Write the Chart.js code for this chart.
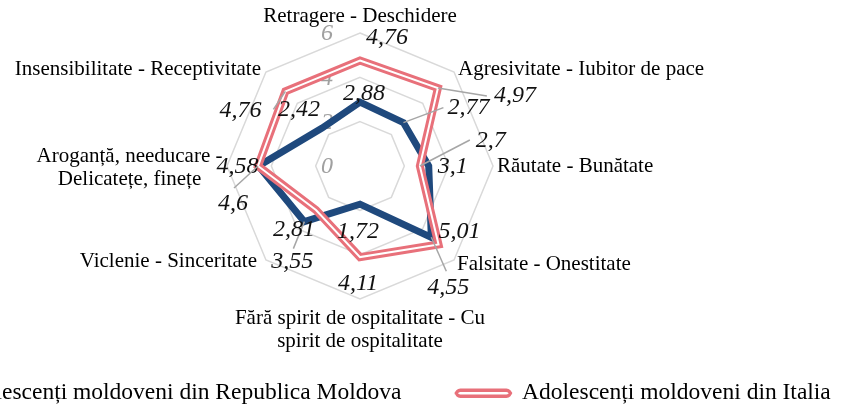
<!DOCTYPE html>
<html lang="ro">
<head>
<meta charset="utf-8">
<title>Radar</title>
<script src="https://cdn.jsdelivr.net/npm/chart.js@4.4.1/dist/chart.umd.min.js"></script>
<style>
  html, body { margin: 0; padding: 0; background: #fff; }
  #cadru { position: relative; width: 843px; height: 408px; overflow: hidden; }
  #lienzo { position: absolute; left: -190px; top: 0; width: 1100px; height: 415px; }
</style>
</head>
<body>
<div id="cadru"><div id="lienzo"><canvas id="grafico"></canvas></div></div>
<script>
// Datele graficului
const categorii = [
  'Retragere - Deschidere',
  'Agresivitate - Iubitor de pace',
  'Răutate - Bunătate',
  'Falsitate - Onestitate',
  ['Fără spirit de ospitalitate - Cu', 'spirit de ospitalitate'],
  'Viclenie - Sinceritate',
  ['Aroganță, needucare -', 'Delicatețe, finețe'],
  'Insensibilitate - Receptivitate'
];
const moldova = [2.88, 2.77, 3.1, 4.55, 1.72, 3.55, 4.58, 2.42];
const italia = [4.76, 4.97, 2.7, 5.01, 4.11, 2.81, 4.6, 4.76];
const valoriAxa = [0, 2, 4, 6];
const numeSerii = ['Adolescenți moldoveni din Republica Moldova', 'Adolescenți moldoveni din Italia'];

// Culori
const albastru = '#1f497d';
const rosu = '#e8707a';

// Asezarea etichetelor (decalaj fata de varf / punct)
const pozCategorii = [[0, -17, 'center'], [4, -2, 'left'], [4, 0, 'left'], [3, 4, 'left'],
  [0, 31, 'center'], [-9, 1, 'right'], [-4.5, 2, 'right'], [-5, -2, 'right']];
const decMoldova = [[4, -8], [65, -15], [24, 1], [17, 50], [-2, 28], [-12, 40], [-21, 1], [-23, -18]];
const decItalia = [[27, -23], [77, 8], [71, -25], [21, -13], [-2, 27], [-22, 20], [-25, 38], [-45, 19]];
const ghidMoldova = [null, [-25, 0], null, [-2, -16], null, [1, -13], null, null];
const ghidItalia = [null, [-28, 0], [-21, -1], null, null, null, [1, -16], [33, -1]];

const fontText = "21px 'Liberation Serif'";
const fontNumar = "italic 24px 'Liberation Serif'";

function formatNumar(v) {
  return String(v).replace('.', ',');
}

// Plugin pentru etichete
const etichete = {
  id: 'etichete',
  beforeDatasetsDraw(chart) {
    const r = chart.scales.r;
    const ctx = chart.ctx;
    ctx.save();
    ctx.font = fontNumar;
    ctx.fillStyle = '#a0a0a0';
    ctx.textAlign = 'center';
    ctx.textBaseline = 'middle';
    valoriAxa.forEach(v => {
      const d = r.getDistanceFromCenterForValue(v);
      ctx.fillText(String(v), r.xCenter - 33, r.yCenter - d + 1);
    });
    ctx.restore();
  },
  afterDatasetsDraw(chart) {
    const r = chart.scales.r;
    const ctx = chart.ctx;
    ctx.save();
    ctx.textBaseline = 'middle';

    // denumirile axelor
    ctx.font = fontText;
    ctx.fillStyle = '#000';
    const lh = 22.5;
    categorii.forEach((cat, i) => {
      const p = r.getPointPosition(i, r.drawingArea);
      const [dx, dy, al] = pozCategorii[i];
      const linii = Array.isArray(cat) ? cat : [cat];
      const x = p.x + dx;
      const yc = p.y + dy;
      const maxW = Math.max(...linii.map(t => ctx.measureText(t).width));
      linii.forEach((t, k) => {
        const y = yc - (linii.length - 1) * lh / 2 + k * lh;
        if (linii.length > 1 && al !== 'center') {
          ctx.textAlign = 'center';
          ctx.fillText(t, al === 'right' ? x - maxW / 2 : x + maxW / 2, y);
        } else {
          ctx.textAlign = al;
          ctx.fillText(t, x, y);
        }
      });
    });

    // valorile seriilor
    const serii = [[2, moldova, decMoldova, ghidMoldova], [1, italia, decItalia, ghidItalia]];
    serii.forEach(([idx, date, dec, ghid]) => {
      const meta = chart.getDatasetMeta(idx);
      date.forEach((v, i) => {
        const pt = meta.data[i];
        const lx = pt.x + dec[i][0];
        const ly = pt.y + dec[i][1];
        if (ghid[i]) {
          ctx.strokeStyle = '#a6a6a6';
          ctx.lineWidth = 1.5;
          ctx.beginPath();
          ctx.moveTo(pt.x, pt.y);
          ctx.lineTo(lx + ghid[i][0], ly + ghid[i][1]);
          ctx.stroke();
        }
        ctx.font = fontNumar;
        ctx.fillStyle = '#111';
        ctx.textAlign = 'center';
        ctx.fillText(formatNumar(v), lx, ly);
      });
    });
    ctx.restore();
  }
};

const ctx = document.getElementById('grafico').getContext('2d');
const grafic = new Chart(ctx, {
  type: 'radar',
  data: {
    labels: categorii,
    datasets: [
      { label: numeSerii[1] + ' (interior)', data: italia, borderColor: '#ffffff', borderWidth: 2,
        pointRadius: 0, fill: false, borderJoinStyle: 'miter' },
      { label: numeSerii[1], data: italia, borderColor: rosu, backgroundColor: '#ffffff', borderWidth: 8,
        pointRadius: 0, fill: false, borderJoinStyle: 'miter' },
      { label: numeSerii[0], data: moldova, borderColor: albastru, backgroundColor: albastru, borderWidth: 7,
        pointRadius: 0, fill: false, borderJoinStyle: 'miter' }
    ]
  },
  options: {
    responsive: true,
    maintainAspectRatio: false,
    animation: false,
    layout: { padding: { top: 7, bottom: 0, left: 0, right: 0 } },
    scales: {
      r: {
        min: 0,
        max: 6,
        ticks: {
          stepSize: 2,
          display: true,
          callback: () => '',
          font: { size: 21 },
          backdropPadding: 15.5,
          showLabelBackdrop: false
        },
        grid: { color: '#d9d9d9', lineWidth: 1.5 },
        angleLines: { display: false },
        pointLabels: { display: false }
      }
    },
    plugins: {
      legend: {
        position: 'bottom',
        onClick: null,
        labels: {
          padding: 55,
          boxWidth: 54,
          boxHeight: 6,
          color: '#000',
          font: { family: 'Liberation Serif', size: 23.5 },
          generateLabels: () => [
            { text: numeSerii[0], fillStyle: albastru, strokeStyle: albastru, lineWidth: 0, hidden: false, datasetIndex: 2 },
            { text: numeSerii[1], fillStyle: '#ffffff', strokeStyle: rosu, lineWidth: 3.5, hidden: false,
              datasetIndex: 1, borderRadius: 4 }
          ]
        }
      },
      tooltip: { enabled: false }
    }
  },
  plugins: [etichete]
});
</script>
</body>
</html>
